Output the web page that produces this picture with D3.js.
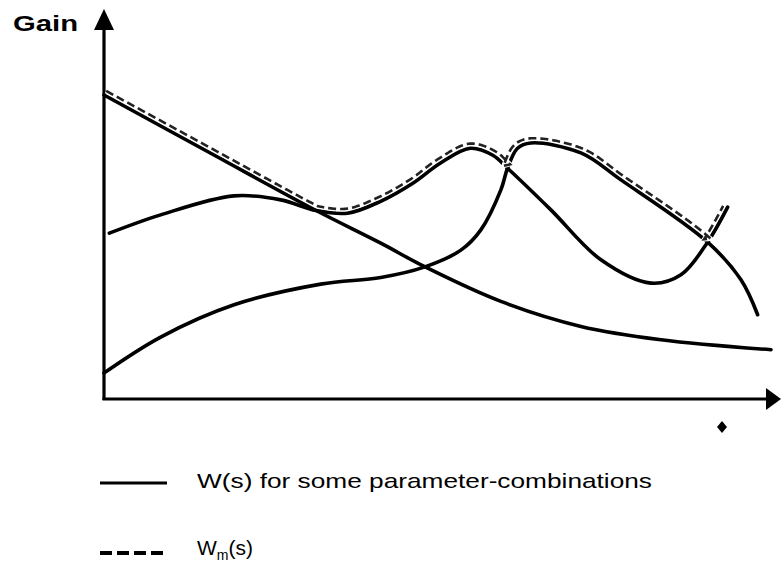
<!DOCTYPE html>
<html>
<head>
<meta charset="utf-8">
<script src="https://cdn.jsdelivr.net/npm/d3@7"></script>
<style>
  body { margin: 0; background: #fff; }
  text { font-family: "Liberation Sans", Arial, Helvetica, sans-serif; fill: #000; }
</style>
</head>
<body>
<svg id="chart" width="781" height="564"></svg>
<script>
// curves (arbitrary frequency / gain units)
var decayX = [0, 1.6, 3.18, 4.15, 4.8, 5.95, 7.15, 8.35, 10];
var decayY = [9.1, 7.35, 5.63, 4.65, 3.95, 2.9, 2.15, 1.75, 1.45];

var humpX = [0.08, 0.85, 1.95, 2.65, 3.18, 3.65, 4.14, 4.63, 5.04, 5.49, 5.83, 6.05, 6.7, 7.45, 8.2, 8.65, 9.05, 9.35];
var humpY = [4.95, 5.5, 6.07, 5.95, 5.63, 5.55, 5.9, 6.45, 7.05, 7.5, 7.29, 6.9, 5.65, 4.15, 3.45, 3.7, 4.68, 5.73];

var riseX = [0, 0.85, 1.95, 3.25, 4.15, 4.8, 5.35, 5.65, 5.95, 6.05, 6.2, 6.4, 7.15, 7.75, 9.05, 9.55, 9.8];
var riseY = [0.75, 1.83, 2.8, 3.42, 3.62, 3.93, 4.44, 5.05, 6.25, 6.9, 7.5, 7.66, 7.36, 6.55, 4.68, 3.55, 2.5];

// Wm(s): upper envelope, which curve is on top between which x values
var envCurve = ["decay", "hump", "rise", "hump"];
var envFrom  = [0, 3.18, 6.05, 9.05];
var envTo    = [3.18, 6.05, 9.05, 9.35];

var legendLabels = ["W(s) for some parameter-combinations", "W", "m", "(s)"];

var svg = d3.select("#chart");

var x = d3.scaleLinear().domain([0, 10]).range([104, 771]);
var y = d3.scaleLinear().domain([0, 10]).range([398, 65]);

var series = {
  decay: d3.zip(decayX, decayY),
  hump: d3.zip(humpX, humpY),
  rise: d3.zip(riseX, riseY)
};

var line = d3.line()
    .x(function(d) { return x(d[0]); })
    .y(function(d) { return y(d[1]); })
    .curve(d3.curveCatmullRom.alpha(0.5));

// axes
var x0 = x(0), yBase = y(0) + 1;
svg.append("line")
    .attr("x1", x0).attr("y1", yBase + 1)
    .attr("x2", x0).attr("y2", 28)
    .attr("stroke", "#000").attr("stroke-width", 3.2);
svg.append("path")
    .attr("d", "M" + (x0 - 10) + ",30L" + x0 + ",9L" + (x0 + 10) + ",30Z")
    .attr("fill", "#000");
svg.append("line")
    .attr("x1", x0 - 1.5).attr("y1", yBase)
    .attr("x2", 768).attr("y2", yBase)
    .attr("stroke", "#000").attr("stroke-width", 3.2);
svg.append("path")
    .attr("d", "M766," + (yBase - 11) + "L781," + yBase + "L766," + (yBase + 11) + "Z")
    .attr("fill", "#000");

// small diamond under the x axis
svg.append("path")
    .attr("d", "M0,-6L5,0L0,6L-5,0Z")
    .attr("transform", "translate(722,427)")
    .attr("fill", "#000");

svg.append("text")
    .attr("x", 13).attr("y", 31)
    .attr("font-size", 22).attr("font-weight", "bold")
    .attr("textLength", 65).attr("lengthAdjust", "spacingAndGlyphs")
    .text("Gain");

// W(s) curves
var g = svg.append("g");
["decay", "hump", "rise"].forEach(function(k) {
  g.append("path")
      .datum(series[k])
      .attr("d", line)
      .attr("fill", "none")
      .attr("stroke", "#000")
      .attr("stroke-width", 3.6)
      .attr("stroke-linecap", "round");
});

// Wm(s): dashed trace drawn just above the topmost curve
var pts = [];
envCurve.forEach(function(k, i) {
  var tmp = svg.append("path").datum(series[k]).attr("d", line).attr("fill", "none");
  var node = tmp.node(), len = node.getTotalLength();
  var a = x(envFrom[i]), b = x(envTo[i]);
  for (var s = 0; s < len; s += 1) {
    var p = node.getPointAtLength(s), q = node.getPointAtLength(Math.min(len, s + 1));
    if (p.x < a || p.x > b) continue;
    var dx = q.x - p.x, dy = q.y - p.y, n = Math.sqrt(dx * dx + dy * dy) || 1;
    pts.push([p.x + 4.6 * dy / n, p.y - 4.6 * dx / n]);
  }
  tmp.remove();
});

svg.append("path")
    .datum(pts)
    .attr("d", d3.line())
    .attr("fill", "none")
    .attr("stroke", "#fff")
    .attr("stroke-width", 4.5);
svg.append("path")
    .datum(pts)
    .attr("d", d3.line())
    .attr("fill", "none")
    .attr("stroke", "#222")
    .attr("stroke-width", 2.6)
    .attr("stroke-dasharray", "8,4");

// legend
svg.append("line")
    .attr("x1", 100).attr("x2", 167).attr("y1", 483).attr("y2", 483)
    .attr("stroke", "#000").attr("stroke-width", 3);
svg.append("text")
    .attr("x", 197).attr("y", 488)
    .attr("font-size", 21)
    .attr("textLength", 455).attr("lengthAdjust", "spacingAndGlyphs")
    .text(legendLabels[0]);

svg.append("line")
    .attr("x1", 100).attr("x2", 167).attr("y1", 553).attr("y2", 553)
    .attr("stroke", "#000").attr("stroke-width", 4)
    .attr("stroke-dasharray", "12,5");
var t2 = svg.append("text")
    .attr("x", 197).attr("y", 555)
    .attr("font-size", 21);
t2.append("tspan").text(legendLabels[1]);
t2.append("tspan").attr("font-size", 14).attr("dy", 5).text(legendLabels[2]);
t2.append("tspan").attr("dy", -5).text(legendLabels[3]);
</script>
</body>
</html>
